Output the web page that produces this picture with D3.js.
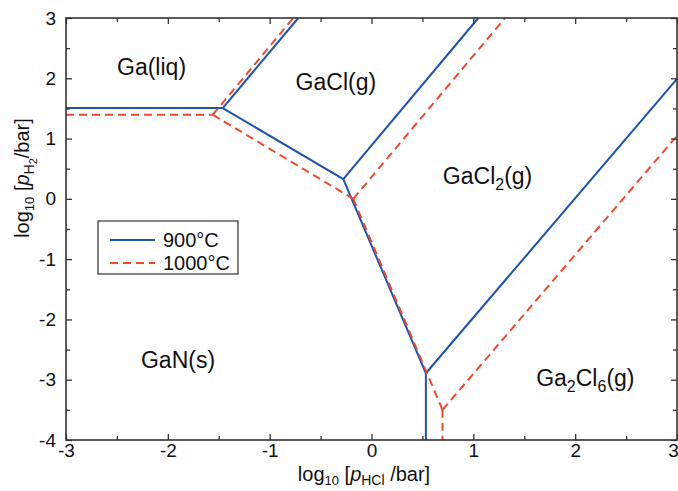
<!DOCTYPE html>
<html>
<head>
<meta charset="utf-8">
<script src="https://cdn.jsdelivr.net/npm/d3@7"></script>
<style>
  html, body { margin: 0; padding: 0; background: #fff; }
  svg text { font-family: "Liberation Sans", Arial, Helvetica, sans-serif; fill: #111; }
</style>
</head>
<body>
<div id="chart"></div>
<script>
// ---- data ----
const xTickValues = [-3, -2, -1, 0, 1, 2, 3];
const yTickValues = [-4, -3, -2, -1, 0, 1, 2, 3];
const xMinorTicks = [-2.5, -1.5, -0.5, 0.5, 1.5, 2.5];
const yMinorTicks = [-3.5, -2.5, -1.5, -0.5, 0.5, 1.5, 2.5];

// phase boundaries at 900 °C, each one a segment [x, y] -> [x, y]
const boundaries900 = [
  [[-3, 1.506], [-1.461, 1.506]],
  [[-1.461, 1.506], [-0.719, 3]],
  [[-1.461, 1.506], [-0.277, 0.327]],
  [[-0.277, 0.327], [1.049, 3]],
  [[-0.277, 0.327], [0.534, -2.893]],
  [[0.534, -2.893], [0.534, -4]],
  [[0.534, -2.893], [3, 1.99]]
];
// phase boundaries at 1000 °C
const boundaries1000 = [
  [[-3, 1.395], [-1.559, 1.395]],
  [[-1.559, 1.395], [-0.768, 3]],
  [[-1.559, 1.395], [-0.179, 0]],
  [[-0.179, 0], [1.311, 3]],
  [[-0.179, 0], [0.697, -3.5]],
  [[0.697, -3.5], [0.697, -4]],
  [[0.697, -3.5], [3, 1.046]]
];
const seriesNames = ["900°C", "1000°C"];

// region labels: text parts, 1 = subscript
const regionLabels = [
  { parts: [["Ga(liq)", 0]], x: -2.16, y: 2.05 },
  { parts: [["GaCl(g)", 0]], x: -0.35, y: 1.8 },
  { parts: [["GaCl", 0], ["2", 1], ["(g)", 0]], x: 1.14, y: 0.25 },
  { parts: [["GaN(s)", 0]], x: -1.9, y: -2.8 },
  { parts: [["Ga", 0], ["2", 1], ["Cl", 0], ["6", 1], ["(g)", 0]], x: 2.1, y: -3.1 }
];

// ---- layout ----
const W = 678, H = 491;
const margin = { left: 66, right: 1, top: 18, bottom: 51 };
const svg = d3.select("#chart").append("svg").attr("width", W).attr("height", H);

const x = d3.scaleLinear().domain([-3, 3]).range([margin.left, W - margin.right]);
const y = d3.scaleLinear().domain([-4, 3]).range([H - margin.bottom, margin.top]);

const colors = { "900°C": "#1e52ab", "1000°C": "#ee4a2e" };
const axisColor = "#333";
const fmt = d => String(d); // hyphen-minus, as in the reference

// lines
const line = d3.line().x(d => x(d[0])).y(d => y(d[1]));
const plot = svg.append("g");
plot.selectAll("path.b900").data(boundaries900).join("path")
  .attr("class", "b900").attr("d", line)
  .attr("fill", "none").attr("stroke", colors["900°C"]).attr("stroke-width", 2)
  .attr("stroke-linejoin", "round");
plot.selectAll("path.b1000").data(boundaries1000).join("path")
  .attr("class", "b1000").attr("d", line)
  .attr("fill", "none").attr("stroke", colors["1000°C"]).attr("stroke-width", 2)
  .attr("stroke-dasharray", "8,5");

// axes with inward ticks
function styleAxis(g) {
  g.select(".domain").remove();
  g.selectAll(".tick line").attr("stroke", axisColor).attr("stroke-width", 1.3);
  g.selectAll(".tick text").attr("fill", "#111").style("font-size", "19px")
    .style("font-family", "'Liberation Sans', Arial, sans-serif");
}
const x0 = margin.left, x1 = W - margin.right, y0 = H - margin.bottom, y1 = margin.top;

const bottomAxis = svg.append("g").attr("transform", `translate(0,${y0})`)
  .call(d3.axisBottom(x).tickValues(xTickValues).tickFormat(fmt).tickSizeInner(-6).tickSizeOuter(0).tickPadding(4))
  .call(styleAxis);
// keep the last label inside the window, as in the reference
bottomAxis.selectAll(".tick text").filter(d => d === 3).attr("dx", -4);
svg.append("g").attr("transform", `translate(0,${y0})`)
  .call(d3.axisBottom(x).tickValues(xMinorTicks).tickFormat("").tickSizeInner(-4).tickSizeOuter(0))
  .call(styleAxis);
svg.append("g").attr("transform", `translate(0,${y1})`)
  .call(d3.axisTop(x).tickValues(xTickValues).tickFormat("").tickSizeInner(-6).tickSizeOuter(0))
  .call(styleAxis);
svg.append("g").attr("transform", `translate(0,${y1})`)
  .call(d3.axisTop(x).tickValues(xMinorTicks).tickFormat("").tickSizeInner(-4).tickSizeOuter(0))
  .call(styleAxis);
svg.append("g").attr("transform", `translate(${x0},0)`)
  .call(d3.axisLeft(y).tickValues(yTickValues).tickFormat(fmt).tickSizeInner(-6).tickSizeOuter(0).tickPadding(10))
  .call(styleAxis);
svg.append("g").attr("transform", `translate(${x0},0)`)
  .call(d3.axisLeft(y).tickValues(yMinorTicks).tickFormat("").tickSizeInner(-4).tickSizeOuter(0))
  .call(styleAxis);
svg.append("g").attr("transform", `translate(${x1},0)`)
  .call(d3.axisRight(y).tickValues(yTickValues).tickFormat("").tickSizeInner(-6).tickSizeOuter(0))
  .call(styleAxis);
svg.append("g").attr("transform", `translate(${x1},0)`)
  .call(d3.axisRight(y).tickValues(yMinorTicks).tickFormat("").tickSizeInner(-4).tickSizeOuter(0))
  .call(styleAxis);

// frame
svg.append("rect").attr("x", x0).attr("y", y1).attr("width", x1 - x0).attr("height", y0 - y1)
  .attr("fill", "none").attr("stroke", axisColor).attr("stroke-width", 1.6);

// region labels
regionLabels.forEach(l => {
  const t = svg.append("text").attr("x", x(l.x)).attr("y", y(l.y))
    .attr("text-anchor", "middle").style("font-size", "23px");
  let shifted = false;
  l.parts.forEach(([s, sub]) => {
    const ts = t.append("tspan").text(s);
    if (sub && !shifted) { ts.attr("dy", 6).style("font-size", "16px"); shifted = true; }
    else if (!sub && shifted) { ts.attr("dy", -6); shifted = false; }
    else if (sub) ts.style("font-size", "16px");
  });
});

// x axis title
const xt = svg.append("text").attr("x", 364).attr("y", 481).attr("text-anchor", "middle").style("font-size", "20px");
xt.append("tspan").text("log");
xt.append("tspan").text("10").attr("dy", 4).style("font-size", "13px");
xt.append("tspan").text(" [").attr("dy", -4);
xt.append("tspan").text("p").style("font-style", "italic");
xt.append("tspan").text("HCl").attr("dy", 4).style("font-size", "14px");
xt.append("tspan").text(" /bar]").attr("dy", -4);

// y axis title
const yt = svg.append("text").attr("transform", "translate(29,178) rotate(-90)")
  .attr("text-anchor", "middle").style("font-size", "20px");
yt.append("tspan").text("log");
yt.append("tspan").text("10").attr("dy", 5).style("font-size", "13px");
yt.append("tspan").text(" [").attr("dy", -5);
yt.append("tspan").text("p").style("font-style", "italic");
yt.append("tspan").text("H").attr("dy", 5).style("font-size", "14px");
yt.append("tspan").text("2").attr("dy", 3).style("font-size", "11px");
yt.append("tspan").text("/bar]").attr("dy", -8);

// legend
const lg = svg.append("g").attr("transform", "translate(98,221)");
lg.append("rect").attr("width", 140).attr("height", 53).attr("fill", "#fff")
  .attr("stroke", "#333").attr("stroke-width", 1.2);
seriesNames.forEach((name, i) => {
  const yy = 19 + i * 23;
  lg.append("line").attr("x1", 12).attr("x2", 57).attr("y1", yy).attr("y2", yy)
    .attr("stroke", colors[name]).attr("stroke-width", 2)
    .attr("stroke-dasharray", i === 1 ? "8,5" : null);
  lg.append("text").attr("x", 65).attr("y", yy + 7).text(name).style("font-size", "20px");
});
</script>
</body>
</html>
